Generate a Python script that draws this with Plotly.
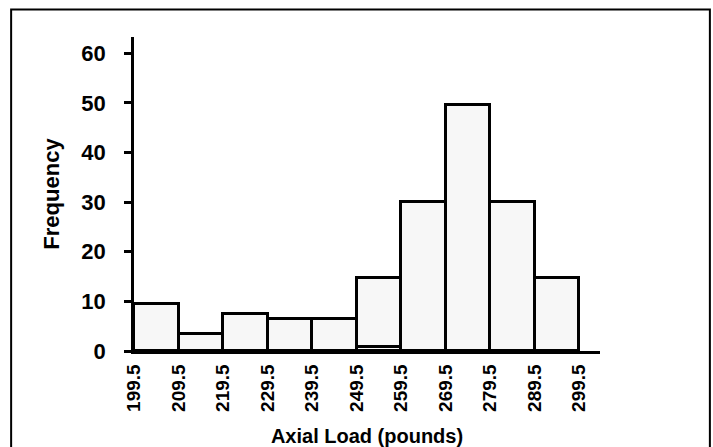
import plotly.graph_objects as go

# Data
bin_edges = [199.5, 209.5, 219.5, 229.5, 239.5, 249.5, 259.5, 269.5, 279.5, 289.5, 299.5]
bin_centers = [204.5, 214.5, 224.5, 234.5, 244.5, 254.5, 264.5, 274.5, 284.5, 294.5]
lower_segment = [0, 0, 0, 0, 0, 0.8, 0, 0, 0, 0]
frequencies = [9.4, 3.4, 7.5, 6.4, 6.4, 13.9, 30.0, 49.5, 30.0, 14.7]
tick_labels = ["199.5", "209.5", "219.5", "229.5", "239.5", "249.5", "259.5", "269.5", "279.5", "289.5", "299.5"]
y_ticks = [0, 10, 20, 30, 40, 50, 60]

FONT = "Liberation Sans, Arial, sans-serif"
fill = "#f7f7f7"

fig = go.Figure()
fig.add_trace(go.Bar(x=bin_centers, y=lower_segment, width=10,
                     marker=dict(color=fill, line=dict(color="black", width=2.8)),
                     showlegend=False, hoverinfo="skip"))
fig.add_trace(go.Bar(x=bin_centers, y=frequencies, width=10,
                     marker=dict(color=fill, line=dict(color="black", width=2.8)),
                     showlegend=False))

W, H = 713, 447
ml, mr, mt, mb = 133.5, 113, 37, 96
pw = W - ml - mr
ph = H - mt - mb

fig.update_layout(
    width=W, height=H,
    margin=dict(l=ml, r=mr, t=mt, b=mb, autoexpand=False),
    paper_bgcolor="white", plot_bgcolor="white",
    barmode="stack", bargap=0,
    font=dict(family=FONT, color="black"),
    xaxis=dict(
        range=[199.5, 304.2],
        tickvals=bin_edges, ticktext=tick_labels,
        tickangle=-90,
        tickfont=dict(family=FONT, size=19, weight="bold", color="black"),
        ticks="", showgrid=False, zeroline=False,
        showline=True, linecolor="black", linewidth=2.5,
        ticklabelstandoff=3,
        title=dict(text="Axial Load (pounds)", font=dict(family=FONT, size=20, weight="bold", color="black"),
                   standoff=19),
    ),
    yaxis=dict(
        range=[0, 63.28],
        tickvals=y_ticks,
        tickfont=dict(family=FONT, size=22, weight="bold", color="black"),
        ticks="outside", ticklen=7, tickwidth=2.5, tickcolor="black",
        ticklabelstandoff=14,
        showgrid=False, zeroline=False,
        showline=True, linecolor="black", linewidth=2.5,
        title=dict(text="Frequency", font=dict(family=FONT, size=22, weight="bold", color="black"),
                   standoff=16),
    ),
    yaxis2=dict(
        range=[0, 63.28], overlaying="y", side="left",
        tickvals=y_ticks, ticks="inside", ticklen=5, tickwidth=2.5, tickcolor="black",
        showticklabels=False, showgrid=False, zeroline=False, showline=False,
    ),
    shapes=[dict(
        type="rect", xref="paper", yref="paper",
        x0=(10.5 - ml) / pw, x1=(710 - ml) / pw,
        y0=(H - mb - 9.5) / ph, y1=(H - mb - 470) / ph,
        line=dict(color="black", width=2), fillcolor="rgba(0,0,0,0)", layer="above",
    )],
)

fig.write_html(
    "out.html",
    config={"displayModeBar": False},
    post_script="document.body.style.margin='0';document.body.style.overflow='hidden';",
)
